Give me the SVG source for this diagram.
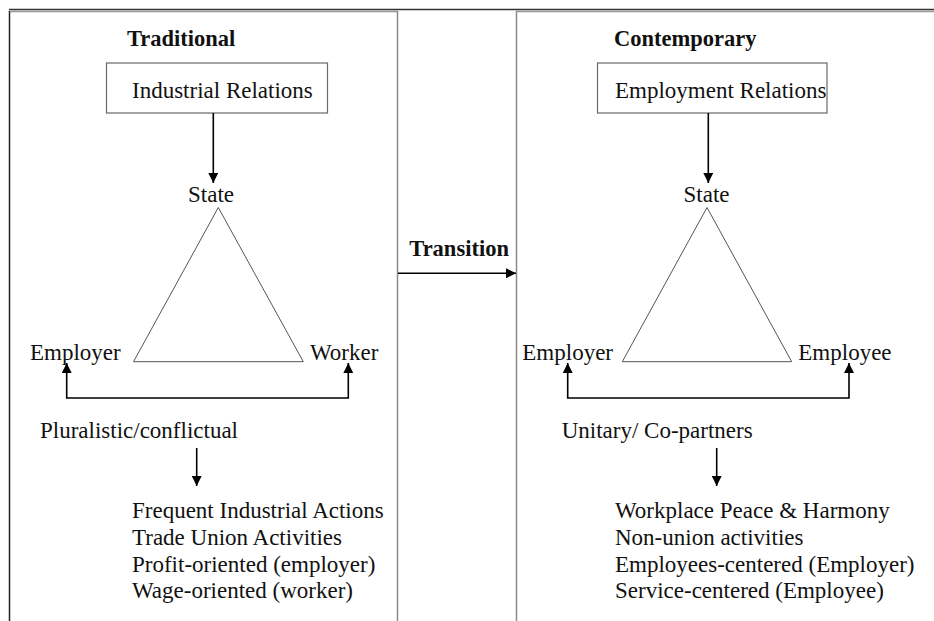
<svg xmlns="http://www.w3.org/2000/svg" width="934" height="621" viewBox="0 0 934 621">
<defs>
<style>
text{font-family:"Liberation Serif","Times New Roman",serif;fill:#111;}
.t{font-size:23px;}
.b{font-size:22.5px;font-weight:bold;}
.box{fill:#fff;stroke:#6a6a6a;stroke-width:1.2;}
.tri{fill:none;stroke:#555;stroke-width:1;}
.c{fill:none;stroke:#000;stroke-width:1.6;}
</style>
<marker id="ah" viewBox="0 0 10 10" refX="10" refY="5" markerWidth="10" markerHeight="10" markerUnits="userSpaceOnUse" orient="auto-start-reverse">
<path d="M0,0 L10,5 L0,10 z" fill="#000"/>
</marker>
</defs>
<rect width="934" height="621" fill="#fff"/>
<g id="frame">
<line x1="9.5" y1="11" x2="9.5" y2="621" stroke="#222" stroke-width="1.5"/>
<line x1="10" y1="11.5" x2="398" y2="11.5" stroke="#999" stroke-width="1.5"/>
<line x1="516" y1="11.5" x2="934" y2="11.5" stroke="#999" stroke-width="1.5"/>
<line x1="397.5" y1="11" x2="397.5" y2="621" stroke="#8a8a8a" stroke-width="1.5"/>
<line x1="516.5" y1="11" x2="516.5" y2="621" stroke="#8a8a8a" stroke-width="1.5"/>
<line x1="9" y1="9.5" x2="934" y2="9.5" stroke="#333" stroke-width="1.3"/>
</g>
<g id="left-title"><text class="b" x="127" y="45.5">Traditional</text></g>
<g id="right-title"><text class="b" x="614" y="45.5">Contemporary</text></g>
<g id="industrial-relations">
<rect class="box" x="106.5" y="63" width="221" height="50"/>
<text class="t" x="132" y="98.3">Industrial Relations</text>
</g>
<g id="employment-relations">
<rect class="box" x="597.5" y="63" width="229.5" height="50"/>
<text class="t" x="615" y="98.3">Employment Relations</text>
</g>
<g id="left-triangle">
<polygon class="tri" points="218.3,207.5 133.5,361.7 303.3,361.7"/>
<text class="t" x="211" y="201.5" text-anchor="middle">State</text>
<text class="t" x="30" y="360">Employer</text>
<text class="t" x="310" y="360">Worker</text>
</g>
<g id="right-triangle">
<polygon class="tri" points="707,207.5 622.3,361.7 791.7,361.7"/>
<text class="t" x="706.5" y="201.5" text-anchor="middle">State</text>
<text class="t" x="522.3" y="360">Employer</text>
<text class="t" x="798.3" y="360">Employee</text>
</g>
<g id="transition"><text class="b" x="409.3" y="256">Transition</text></g>
<g id="left-relation"><text class="t" x="40" y="438.3">Pluralistic/conflictual</text></g>
<g id="right-relation"><text class="t" x="561.7" y="438.3">Unitary/ Co-partners</text></g>
<g id="left-outcomes">
<text class="t" x="132" y="518">Frequent Industrial Actions</text>
<text class="t" x="132" y="545">Trade Union Activities</text>
<text class="t" x="132" y="571.5">Profit-oriented (employer)</text>
<text class="t" x="132" y="598">Wage-oriented (worker)</text>
</g>
<g id="right-outcomes">
<text class="t" x="615" y="518">Workplace Peace &amp; Harmony</text>
<text class="t" x="615" y="545">Non-union activities</text>
<text class="t" x="615" y="571.5">Employees-centered (Employer)</text>
<text class="t" x="615" y="598">Service-centered (Employee)</text>
</g>
<g id="connectors">
<line class="c" x1="213.3" y1="113" x2="213.3" y2="183" marker-end="url(#ah)"/>
<line class="c" x1="708.3" y1="113" x2="708.3" y2="183" marker-end="url(#ah)"/>
<line class="c" x1="398" y1="273.3" x2="516" y2="273.3" marker-end="url(#ah)"/>
<polyline class="c" points="66.7,363 66.7,398 348.3,398 348.3,363" marker-start="url(#ah)" marker-end="url(#ah)"/>
<polyline class="c" points="567.7,363 567.7,398 849,398 849,363" marker-start="url(#ah)" marker-end="url(#ah)"/>
<line class="c" x1="196.7" y1="448" x2="196.7" y2="486" marker-end="url(#ah)"/>
<line class="c" x1="716.7" y1="448" x2="716.7" y2="486" marker-end="url(#ah)"/>
</g>
</svg>
